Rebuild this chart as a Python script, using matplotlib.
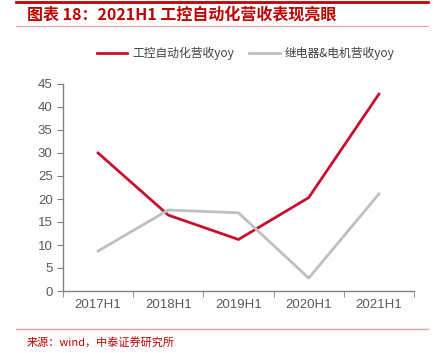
import numpy as np
import matplotlib
matplotlib.use("Agg")
import matplotlib.pyplot as plt

# data
periods = ["2017H1", "2018H1", "2019H1", "2020H1", "2021H1"]
auto_yoy = [30.0, 16.5, 11.2, 20.3, 42.8]
relay_yoy = [8.7, 17.6, 17.0, 2.8, 21.1]
yticks = np.arange(0, 50, 5)

red = "#C8102E"
grey = "#BFBFBF"
cjk = ["Noto Sans CJK SC", "DejaVu Sans"]

fig = plt.figure(figsize=(4.45, 3.53), dpi=100)
ax = fig.add_axes([63/445, 1-291/353, (414-63)/445, (291-84)/353])

x = np.arange(len(periods))
ax.plot(x, auto_yoy, color=red, lw=2, label="工控自动化营收yoy")
ax.plot(x, relay_yoy, color=grey, lw=2, label="继电器&电机营收yoy")

ax.set_xlim(-0.5, len(periods) - 0.5)
ax.set_ylim(0, 45)
ax.set_yticks(yticks)
ax.set_xticks(x)
ax.set_xticklabels(periods)
ax.set_xticks(np.arange(-0.5, len(periods), 1), minor=True)
ax.tick_params(axis="x", which="major", length=0, pad=6)
ax.tick_params(axis="x", which="minor", length=4, color="#808080", direction="out")
ax.tick_params(axis="y", length=4, color="#808080", direction="out")
for lab in ax.get_xticklabels() + ax.get_yticklabels():
    lab.set_fontfamily("Liberation Sans")
    lab.set_fontsize(9.5)
    lab.set_color("#595959")
for s in ["top", "right"]:
    ax.spines[s].set_visible(False)
for s in ["left", "bottom"]:
    ax.spines[s].set_color("#808080")
    ax.spines[s].set_linewidth(1)

leg = ax.legend(loc="upper center", bbox_to_anchor=(0.52, 1.23), ncol=2, frameon=False,
                prop={"family": cjk, "size": 8.5}, handlelength=2.6, columnspacing=1.3,
                handletextpad=0.4)
for t in leg.get_texts():
    t.set_color("#404040")

# title and source lines
fig.add_artist(plt.Line2D([16/445, 428/445], [1-2/353, 1-2/353], color="#C00000", lw=2))
fig.add_artist(plt.Line2D([16/445, 428/445], [1-26/353, 1-26/353], color="#E8A0A0", lw=0.8))
fig.add_artist(plt.Line2D([16/445, 428/445], [1-329/353, 1-329/353], color="#E8A0A0", lw=1))
fig.text(27/445, 1-15/353, "图表 18：2021H1 工控自动化营收表现亮眼", family=cjk,
         fontsize=11.5, fontweight="bold", color="#C00000", va="center", ha="left")
fig.text(27/445, 1-342/353, "来源：wind，中泰证券研究所", family=cjk,
         fontsize=8, color="#C00000", va="center", ha="left")

fig.savefig("out.png", dpi=100)
